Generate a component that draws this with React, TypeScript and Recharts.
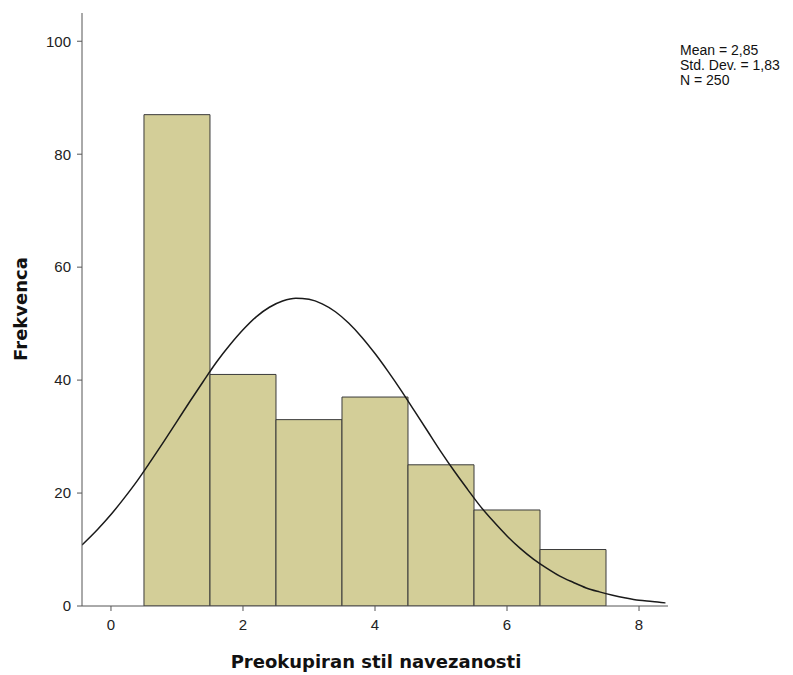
import React from 'react';
import { ComposedChart, Bar, Line, XAxis, YAxis } from 'recharts';

// histogram bins (midpoints) and frequencies
const binMids = [1, 2, 3, 4, 5, 6, 7];
const binCounts = [87, 41, 33, 37, 25, 17, 10];

// normal curve
const curveX = [
  -0.44, -0.2, 0, 0.2, 0.4, 0.6, 0.8, 1, 1.2, 1.4, 1.6, 1.8, 2, 2.2, 2.4, 2.6, 2.8, 3,
  3.2, 3.4, 3.6, 3.8, 4, 4.2, 4.4, 4.6, 4.8, 5, 5.2, 5.4, 5.6, 5.8, 6, 6.2, 6.4, 6.6,
  6.8, 7, 7.2, 7.4, 7.6, 7.8, 8, 8.2, 8.4,
];
const curveY = [
  10.8, 13.6, 16.2, 19.1, 22.2, 25.6, 29.1, 32.7, 36.3, 39.8, 43.2, 46.2, 48.9, 51.2, 52.9,
  54.0, 54.5, 54.3, 53.5, 52.1, 50.1, 47.6, 44.7, 41.5, 38.1, 34.5, 30.9, 27.3, 23.9, 20.7,
  17.6, 14.9, 12.4, 10.2, 8.3, 6.7, 5.3, 4.2, 3.2, 2.5, 1.9, 1.4, 1.0, 0.8, 0.55,
];

const xTicks = [0, 2, 4, 6, 8];
const yTicks = [0, 20, 40, 60, 80, 100];

const bars = binMids.map((mid, i) => ({ mid, count: binCounts[i] }));
const curve = curveX.map((x, i) => ({ x, y: curveY[i] }));

const xDomain: [number, number] = [-0.439, 8.439];
const axisColor = '#555';
const tickStyle = { fill: '#222', fontSize: 15, fontFamily: 'Liberation Sans, Arial, sans-serif' };

export default function App() {
  return (
    <div
      style={{
        position: 'absolute',
        left: 0,
        top: 0,
        width: 793,
        height: 675,
        background: '#fff',
        fontFamily: 'Liberation Sans, Arial, sans-serif',
      }}
    >
      <ComposedChart
        width={793}
        height={675}
        data={bars}
        margin={{ top: 13, right: 125, bottom: 29, left: 42 }}
        barCategoryGap={0}
        barGap={0}
      >
        <XAxis
          xAxisId="main"
          dataKey="x"
          type="number"
          domain={xDomain}
          ticks={xTicks}
          allowDataOverflow
          height={40}
          tickSize={5}
          tickMargin={8}
          stroke={axisColor}
          tick={tickStyle}
        />
        <XAxis xAxisId="bins" dataKey="mid" type="number" domain={xDomain} allowDataOverflow hide height={0} />
        <YAxis
          type="number"
          domain={[0, 105]}
          ticks={yTicks}
          allowDataOverflow
          width={40}
          tickSize={5}
          tickMargin={6}
          stroke={axisColor}
          tick={tickStyle}
        />
        <Bar
          xAxisId="bins"
          dataKey="count"
          fill="#d3ce98"
          stroke="#3a3a3a"
          strokeWidth={1}
          isAnimationActive={false}
        />
        <Line
          xAxisId="main"
          data={curve}
          dataKey="y"
          type="monotone"
          stroke="#1a1a1a"
          strokeWidth={1.5}
          dot={false}
          activeDot={false}
          isAnimationActive={false}
        />
      </ComposedChart>

      <div
        style={{
          position: 'absolute',
          left: 680,
          top: 43,
          fontSize: 14,
          lineHeight: '15px',
          color: '#111',
        }}
      >
        <div>Mean = 2,85</div>
        <div>Std. Dev. = 1,83</div>
        <div>N = 250</div>
      </div>

      <div
        style={{
          position: 'absolute',
          left: 376,
          top: 661,
          transform: 'translate(-50%, -50%)',
          whiteSpace: 'nowrap',
          fontFamily: 'DejaVu Sans, sans-serif',
          fontWeight: 'bold',
          fontSize: 18,
          color: '#111',
        }}
      >
        Preokupiran stil navezanosti
      </div>

      <div
        style={{
          position: 'absolute',
          left: 20,
          top: 309,
          transform: 'translate(-50%, -50%) rotate(-90deg)',
          whiteSpace: 'nowrap',
          fontFamily: 'DejaVu Sans, sans-serif',
          fontWeight: 'bold',
          fontSize: 18,
          color: '#111',
        }}
      >
        Frekvenca
      </div>
    </div>
  );
}
